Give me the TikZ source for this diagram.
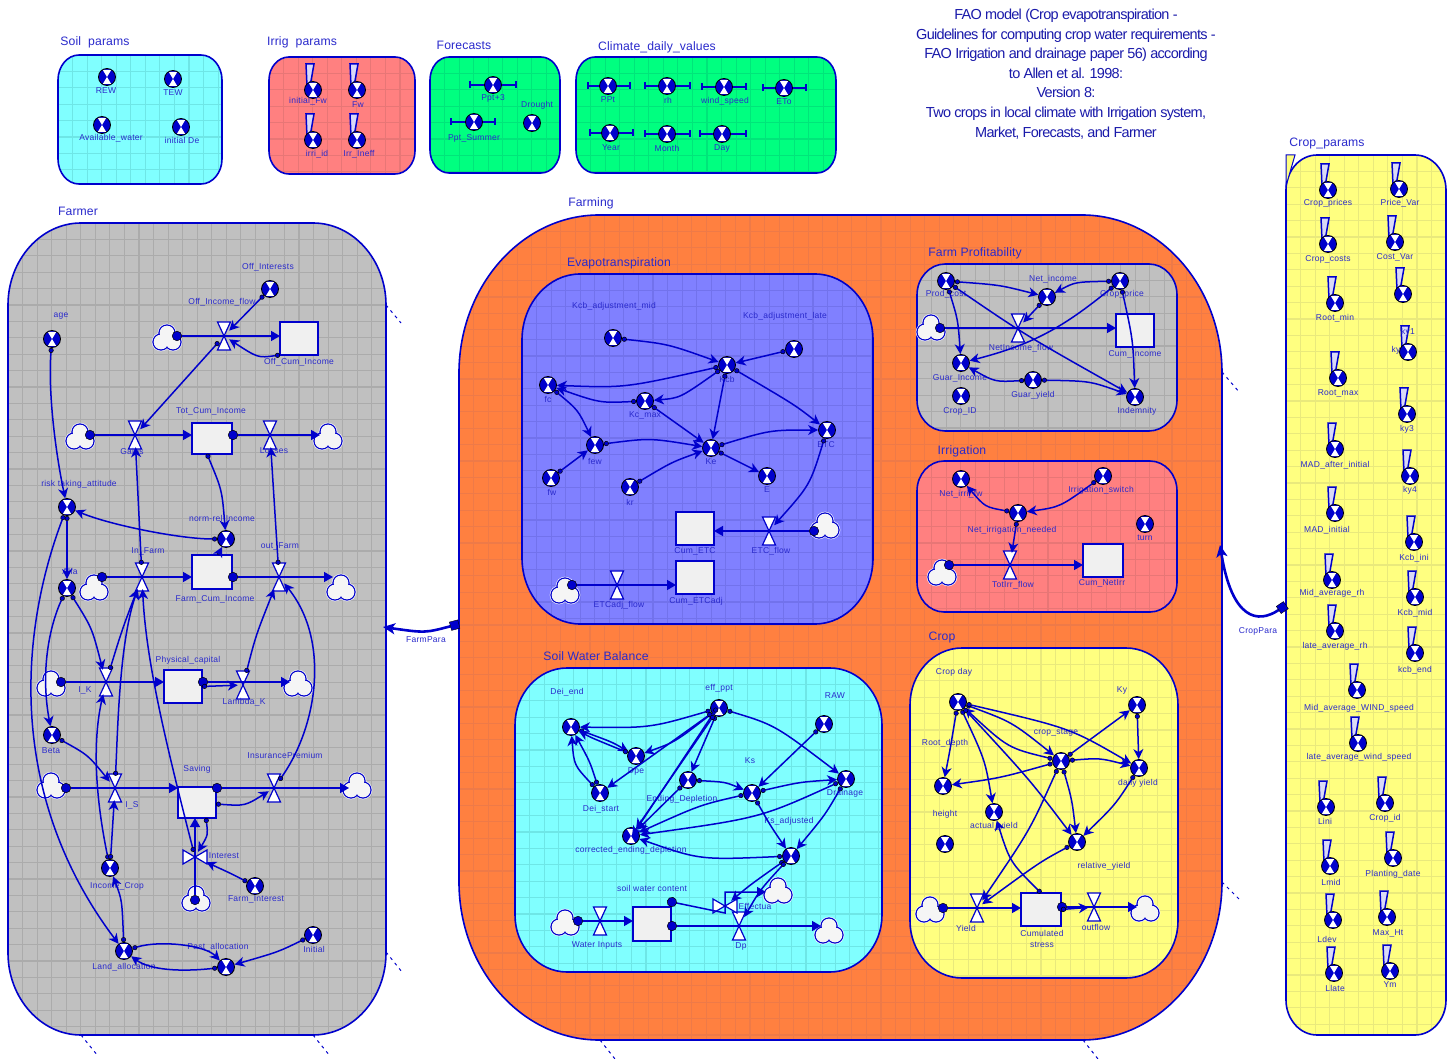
\documentclass[tikz,border=0pt]{standalone}
\usepackage{fontspec}
\setmainfont{Liberation Sans}
\newfontfamily\lblfont[LetterSpace=3]{Liberation Sans}
\newfontfamily\ttlfont[LetterSpace=1]{Liberation Sans}
\newfontfamily\hdrfont[LetterSpace=-4.8]{Liberation Sans}
\usetikzlibrary{arrows.meta}
\definecolor{lineblue}{HTML}{0000CC}
\definecolor{txtblue}{HTML}{2A2ACC}
\definecolor{hdrblue}{HTML}{1A1AAA}
\definecolor{cCyan}{HTML}{80FFFF}\definecolor{gCyan}{HTML}{6EE6E6}
\definecolor{cSalm}{HTML}{FF8080}\definecolor{gSalm}{HTML}{E87676}
\definecolor{cGreen}{HTML}{00FF80}\definecolor{gGreen}{HTML}{00E57A}
\definecolor{cOrg}{HTML}{FF8040}\definecolor{gOrg}{HTML}{EE7A48}
\definecolor{cPeri}{HTML}{8080FF}\definecolor{gPeri}{HTML}{7272EC}
\definecolor{cGray}{HTML}{C0C0C0}\definecolor{gGray}{HTML}{ABABAB}
\definecolor{cYel}{HTML}{FFFF80}\definecolor{gYel}{HTML}{E9E97C}
\tikzset{
 lbl/.style={inner sep=0pt,text=txtblue,font=\lblfont\fontsize{8.5}{9}\selectfont},
 ttl/.style={inner sep=0pt,text=txtblue,font=\ttlfont\fontsize{12.2}{13}\selectfont},
 hdr/.style={inner sep=0pt,text=hdrblue,font=\hdrfont\fontsize{14.5}{15}\selectfont},
 convnode/.style={circle,minimum size=17pt,inner sep=0pt,draw=black,line width=.8pt,fill=lineblue,
   path picture={
     \fill[white] (path picture bounding box.center) -- ++(-4.2,-7) -- ++(8.4,0) -- cycle;
     \fill[white] (path picture bounding box.center) -- ++(-4.2,7) -- ++(8.4,0) -- cycle;
   }},
 flagmark/.style={draw=lineblue,line width=1.5pt,fill=white!85!lineblue,line join=miter},
 barmark/.style={draw=lineblue,line width=1.4pt},
 valvebox/.style={rectangle,minimum width=10pt,minimum height=24pt,inner sep=0pt},
 valvebody/.style={draw=lineblue,line width=1.2pt,fill=white},
 cloudbox/.style={circle,minimum size=24pt,inner sep=0pt},
 stockbox/.style={rectangle,draw=lineblue,line width=1.5pt,fill=black!6,inner sep=0pt,outer sep=0pt},
 panel/.style={draw=lineblue,line width=1.6pt},
 handle/.style={draw=lineblue,line width=1pt,dash pattern=on 3pt off 4pt},
 flow/.style={draw=lineblue,line width=1.5pt,
   {Circle[length=10pt,width=10pt,black,fill=lineblue,line width=.5pt]}-{Triangle[length=9pt,width=10pt,fill=lineblue,lineblue]}},
 conn/.style={draw=lineblue,line width=1.5pt,
   {Circle[length=5pt,width=5pt,black,fill=lineblue,line width=.5pt]}-{Stealth[length=10pt,width=10pt,inset=3pt,fill=lineblue,lineblue]}},
 thickconn/.style={draw=lineblue,line width=2.6pt,
   {Square[length=9pt,width=9pt,black,fill=lineblue,line width=.4pt]}-{Stealth[length=12pt,width=11pt,inset=3pt,fill=lineblue,lineblue]}},
}
\newcounter{lb}
\newcommand\T[3]{\stepcounter{lb}\node[lbl] (lbl\thelb) at (#1,#2) {#3};}
\newcommand\TT[3]{\stepcounter{lb}\node[ttl] (lbl\thelb) at (#1,#2) {#3};}
\newcommand\PanelPath[6]{({#1+#5},#2) -- ({#3-#5},#2) .. controls ({#3-.45*#5},#2) and (#3,{#2+.45*#6}) .. (#3,{#2+#6}) -- (#3,{#4-#6}) .. controls (#3,{#4-.45*#6}) and ({#3-.45*#5},#4) .. ({#3-#5},#4) -- ({#1+#5},#4) .. controls ({#1+.45*#5},#4) and (#1,{#4-.45*#6}) .. (#1,{#4-#6}) -- (#1,{#2+#6}) .. controls (#1,{#2+.45*#6}) and ({#1+.45*#5},#2) .. ({#1+#5},#2) -- cycle}
% x1 y1 x2 y2 rx ry fill grid
\newcommand\Panel[8]{%
 \begin{scope}
  \path[clip] \PanelPath{#1}{#2}{#3}{#4}{#5}{#6};
  \fill[#7] (#1,#2) rectangle (#3,#4);
  \foreach \i in {1,...,56}{\draw[#8,line width=1.1pt] ({#1+14.55*\i},#2) -- ({#1+14.55*\i},#4);}
  \foreach \i in {1,...,56}{\draw[#8,line width=1.1pt] (#1,{#2+16.4*\i}) -- (#3,{#2+16.4*\i});}
 \end{scope}
 \draw[panel] \PanelPath{#1}{#2}{#3}{#4}{#5}{#6};}
\newcommand\Cv[6]{\node[convnode] (#1) at (#2,#3) {};\ifx&#4&\else\T{#5}{#6}{#4}\fi}
\newcommand\CvF[6]{\draw[flagmark] ({#2-7},{#3-26}) -- ({#2+1},{#3-26}) -- ({#2-2},{#3-9}) -- ({#2-6},{#3-4}) -- cycle;\Cv{#1}{#2}{#3}{#4}{#5}{#6}}
% name x y barx1 barx2 label lx ly
\newcommand\CvB[8]{\draw[barmark] (#4,#3) -- (#5,#3) (#4,{#3-3.5}) -- (#4,{#3+3.5}) (#5,{#3-3.5}) -- (#5,{#3+3.5});\Cv{#1}{#2}{#3}{#6}{#7}{#8}}
\newcommand\Va[6]{\draw[valvebody] ({#2-6.5},{#3-14}) -- ({#2+6.5},{#3-14}) -- (#2,#3) -- cycle;\draw[valvebody] ({#2-6.5},{#3+14}) -- ({#2+6.5},{#3+14}) -- (#2,#3) -- cycle;\node[valvebox] (#1) at (#2,#3) {};\T{#5}{#6}{#4}}
\newcommand\VaH[6]{\draw[valvebody] ({#2-12},{#3-7}) -- ({#2-12},{#3+7}) -- (#2,#3) -- cycle;\draw[valvebody] ({#2+12},{#3-7}) -- ({#2+12},{#3+7}) -- (#2,#3) -- cycle;\node[valvebox,minimum width=24pt,minimum height=10pt] (#1) at (#2,#3) {};\T{#5}{#6}{#4}}
\newcommand\Cl[3]{%
 \foreach \dx/\dy in {0/-6,-6/3,6/3}{\fill[white] ({#2+\dx},{#3+\dy}) circle[radius=9.3];}
 \foreach \dx/\dy in {0/-6,-6/3,6/3}{\draw[lineblue,line width=1.3pt] ({#2+\dx},{#3+\dy}) circle[radius=8];}
 \foreach \dx/\dy in {0/-6,-6/3,6/3}{\fill[black!4] ({#2+\dx},{#3+\dy}) circle[radius=7.3];}
 \node[cloudbox] (#1) at (#2,#3) {};}
% name x1 y1 x2 y2 label lx ly
\newcommand\St[8]{\node[stockbox,minimum width={#4-#2},minimum height={#5-#3}] (#1) at ({(#2+#4)/2},{(#3+#5)/2}) {};\ifx&#6&\else\T{#7}{#8}{#6}\fi}
\newcommand\Cs[2]{\draw[conn] (#1) -- (#2);}
\newcommand\Cq[3]{\draw[conn] (#1) .. controls (#2) .. (#3);}
\newcommand\Cc[4]{\draw[conn] (#1) .. controls (#2) and (#3) .. (#4);}
\begin{document}
\begin{tikzpicture}[x=1pt,y=-1pt]
\useasboundingbox (0,0) rectangle (1452,1059);
\fill[white] (0,0) rectangle (1452,1059);
% ---------- header
\stepcounter{lb}\node[hdr,align=center] (header) at (1066,74) {FAO model (Crop evapotranspiration -\\[4.6pt]Guidelines for computing crop water requirements -\\[4.6pt]FAO Irrigation and drainage paper 56) according\\[4.6pt]to Allen et al. 1998:\\[4.6pt]Version 8:\\[4.6pt]Two crops in local climate with Irrigation system,\\[4.6pt]Market, Forecasts, and Farmer};
% ---------- panels
\Panel{58}{55}{222}{184}{21}{25}{cCyan}{gCyan}
\Panel{269}{57}{415}{174}{20}{23}{cSalm}{gSalm}
\Panel{430}{57}{560}{173}{19}{23}{cGreen}{gGreen}
\Panel{576}{57}{836}{173}{19}{23}{cGreen}{gGreen}
\Panel{8}{223}{386}{1035}{73}{82}{cGray}{gGray}
\Panel{459}{215}{1222}{1040}{140}{158}{cOrg}{gOrg}
\Panel{522}{274}{873}{624}{58}{66}{cPeri}{gPeri}
\Panel{917}{264}{1177}{431}{28}{31}{cGray}{gGray}
\Panel{917}{461}{1177}{612}{27}{30}{cSalm}{gSalm}
\Panel{515}{668}{882}{972}{52}{57}{cCyan}{gCyan}
\Panel{910}{648}{1178}{978}{52}{57}{cYel}{gYel}
\Panel{1286}{155}{1446}{1035}{31}{35}{cYel}{gYel}
\draw[flagmark,fill=cYel,line width=1pt] (1286,155) -- (1295,155) -- (1286,186) -- cycle;
% corner handles
\foreach \a/\b/\c/\d in {386/305/401/323,386/952/402/972,81/1035/98/1056,313/1035/330/1056,1222/372/1240/393,1222/882/1240/900,600/1040/615/1059,1083/1040/1098/1059}{\draw[handle] (\a,\b) -- (\c,\d);}
% ---------- titles
\TT{95}{42}{Soil\ \ params}\TT{302}{42}{Irrig\ \ params}\TT{464}{45}{Forecasts}\TT{657}{47}{Climate\_daily\_values}
\TT{78}{211}{Farmer}\TT{591}{203}{Farming}\TT{619}{263}{Evapotranspiration}\TT{975}{253}{Farm Profitability}
\TT{962}{451}{Irrigation}\TT{596}{656}{Soil Water Balance}\TT{942}{638}{Crop}\TT{1327}{144}{Crop\_params}
% ---------- Soil params
\Cv{REW}{107}{77}{REW}{106}{91}
\Cv{TEW}{173}{79}{TEW}{173}{93}
\Cv{AvW}{102}{125}{Available\_water}{111}{138}
\Cv{iniDe}{181}{127}{initial De}{182}{140}
% Irrig params
\CvF{iniFw}{313}{90}{initial\_Fw}{308}{101}
\CvF{Fw}{357}{90}{Fw}{358}{105}
\CvF{irriid}{313}{140}{irri\_id}{317}{154}
\CvF{Irrineff}{357}{140}{Irr\_Ineff}{359}{154}
% Forecasts
\CvB{Ppt3}{493}{85}{470}{516}{Ppt+3}{493}{98}
\CvB{PptS}{474}{122}{451}{495}{Ppt\_Summer}{474}{138}
\Cv{Drought}{532}{123}{Drought}{537}{105}
% Climate
\CvB{PPt}{608}{86}{588}{630}{PPt}{608}{100}
\CvB{rh}{667}{86}{645}{690}{rh}{668}{100}
\CvB{wind}{724}{87}{702}{746}{wind\_speed}{725}{101}
\CvB{ETo}{784}{88}{763}{806}{ETo}{784}{102}
\CvB{Year}{610}{133}{590}{633}{Year}{611}{148}
\CvB{Month}{667}{134}{645}{690}{Month}{667}{148}
\CvB{Day}{722}{134}{700}{746}{Day}{722}{148}
% ---------- Crop params
\CvF{Cprices}{1328}{190}{Crop\_prices}{1328}{203}
\CvF{PriceV}{1399}{189}{Price\_Var}{1400}{203}
\CvF{Ccosts}{1328}{244}{Crop\_costs}{1328}{259}
\CvF{CostV}{1395}{242}{Cost\_Var}{1395}{257}
\CvF{unn}{1403}{294}{}{0}{0}
\CvF{Rmin}{1335}{303}{Root\_min}{1335}{318}
\CvF{kyone}{1408}{352}{ky1}{1408}{332}
\T{1396}{350}{ky}
\CvF{Rmax}{1338}{378}{Root\_max}{1338}{393}
\CvF{kythree}{1407}{414}{ky3}{1407}{429}
\CvF{MADa}{1335}{449}{MAD\_after\_initial}{1335}{465}
\CvF{kyfour}{1410}{476}{ky4}{1410}{490}
\CvF{MADi}{1335}{513}{MAD\_initial}{1327}{530}
\CvF{Kini}{1414}{542}{Kcb\_ini}{1414}{558}
\CvF{Midrh}{1332}{580}{Mid\_average\_rh}{1332}{593}
\CvF{Kmid}{1415}{597}{Kcb\_mid}{1415}{613}
\CvF{Laterh}{1335}{631}{late\_average\_rh}{1335}{646}
\CvF{Kend}{1415}{653}{kcb\_end}{1415}{670}
\CvF{MidW}{1357}{690}{Mid\_average\_WIND\_speed}{1359}{708}
\CvF{LateW}{1358}{743}{late\_average\_wind\_speed}{1359}{757}
\CvF{Lini}{1326}{807}{Lini}{1325}{821}
\CvF{Cropid}{1385}{803}{Crop\_id}{1385}{818}
\CvF{Lmid}{1330}{866}{Lmid}{1331}{882}
\CvF{Plant}{1393}{858}{Planting\_date}{1393}{874}
\CvF{Ldev}{1333}{920}{Ldev}{1327}{939}
\CvF{MaxHt}{1387}{917}{Max\_Ht}{1388}{933}
\CvF{Llate}{1334}{973}{Llate}{1335}{988}
\CvF{Ym}{1390}{971}{Ym}{1390}{985}
% ---------- para links
\coordinate (fpS) at (459,624);\coordinate (fpE) at (383,627);
\draw[thickconn] (fpS) .. controls (425,633) .. (fpE);
\T{426}{640}{FarmPara}
\coordinate (cpS) at (1286,605);\coordinate (cpE) at (1220,545);
\draw[thickconn] (cpS) .. controls (1258,624) and (1232,620) .. (cpE);
\T{1258}{631}{CropPara}
% ---------- FARMER
\Va{OffFlow}{224}{336}{Off\_Income\_flow}{222}{302}
\Va{Gains}{135}{435}{Gains}{132}{451}
\Va{Losses}{270}{435}{Losses}{274}{451}
\Va{InFarm}{142}{577}{In\_Farm}{148}{551}
\Va{OutFarm}{279}{577}{out\_Farm}{280}{546}
\Va{IK}{106}{682}{I\_K}{85}{690}
\Va{LamK}{243}{685}{Lambda\_K}{244}{702}
\Va{IS}{115}{788}{I\_S}{132}{805}
\Va{InsP}{274}{788}{InsurancePremium}{285}{755}
\VaH{Interest}{195}{857}{Interest}{224}{856}
\Cl{fc1}{167}{339}\Cl{fc2}{80}{438}\Cl{fc3}{328}{438}\Cl{fc4}{94}{589}\Cl{fc5}{341}{589}
\Cl{fc6}{51}{685}\Cl{fc7}{298}{685}\Cl{fc8}{51}{787}\Cl{fc9}{357}{787}\Cl{fc10}{196}{900}
\St{OffCum}{280}{322}{318}{355}{Off\_Cum\_Income}{299}{362}
\St{TotCum}{192}{423}{232}{454}{Tot\_Cum\_Income}{211}{411}
\St{FarmCum}{192}{555}{232}{589}{Farm\_Cum\_Income}{215}{599}
\St{PhysCap}{164}{670}{202}{703}{Physical\_capital}{188}{660}
\St{Saving}{178}{787}{216}{818}{Saving}{197}{769}
\Cv{OffInt}{270}{289}{Off\_Interests}{268}{267}
\Cv{age}{52}{339}{age}{61}{316}
\Cv{risk}{67}{507}{risk taking\_attitude}{79}{484}
\Cv{Alfa}{67}{588}{Alfa}{70}{571}
\Cv{norm}{226}{539}{norm-rel-Income}{222}{518}
\Cv{Beta}{52}{735}{Beta}{51}{751}
\Cv{IncCrop}{110}{868}{Income\_Crop}{117}{886}
\Cv{Land}{124}{951}{Land\_allocation}{124}{967}
\Cv{Past}{226}{967}{Past\_allocation}{218}{947}
\Cv{Initial}{313}{935}{Initial}{314}{949}
\Cv{FarmInt}{255}{886}{Farm\_Interest}{256}{899}
% flows
\draw[flow] ([xshift=5pt]fc1.center |- OffFlow) -- (OffCum.west |- OffFlow);
\draw[flow] ([xshift=5pt]fc2.center |- Gains) -- (TotCum.west |- Gains);
\draw[flow] ([xshift=-4pt]TotCum.east |- Losses) -- ([xshift=-8pt]fc3.center |- Losses);
\draw[flow] ([xshift=3pt]fc4.center |- InFarm) -- (FarmCum.west |- InFarm);
\draw[flow] ([xshift=-4pt]FarmCum.east |- OutFarm) -- ([xshift=-8pt]fc5.center |- OutFarm);
\draw[flow] ([xshift=5pt]fc6.center |- IK) -- (PhysCap.west |- IK);
\draw[flow] ([xshift=-4pt]PhysCap.east |- IK) -- ([xshift=-8pt]fc7.center |- IK);
\draw[flow] ([xshift=10pt]fc8.center |- IS) -- (Saving.west |- IS);
\draw[flow] ([xshift=-4pt]Saving.east |- InsP) -- ([xshift=-8pt]fc9.center |- InsP);
\draw[flow] ([yshift=-5pt]fc10.center -| Interest) -- (Interest |- Saving.south);
% connectors
\Cs{OffInt}{OffFlow}
\Cq{OffCum.south west}{258,358}{OffFlow}
\Cs{OffFlow}{Gains}
\Cq{[xshift=-5pt]TotCum.south}{222,490}{norm}
\Cc{norm}{180,539}{110,525}{risk}
\Cc{age}{48,390}{55,450}{risk}
\Cs{risk}{Alfa}
\Cc{risk}{17,640}{10,800}{Land}
\Cc{Alfa}{50,625}{40,670}{Beta}
\Cq{Alfa}{92,628}{IK}
\Cq{Beta}{88,755}{IS}
\Cs{[xshift=6pt]FarmCum.north}{norm}
\Cs{InFarm}{Gains}
\Cs{OutFarm}{Losses}
\Cq{IK}{122,630}{InFarm}
\Cc{IS}{118,720}{120,640}{InFarm}
\Cc{Interest}{165,740}{146,660}{InFarm}
\Cc{IncCrop}{92,780}{95,730}{IK}
\Cs{IncCrop}{IS}
\Cq{Land}{122,900}{IncCrop}
\Cq{LamK}{256,635}{OutFarm}
\Cc{InsP}{318,725}{330,640}{OutFarm}
\Cq{[yshift=-1pt]Saving.east |- 0,803}{245,806}{InsP}
\Cq{[xshift=9pt]Saving.south}{208,835}{Interest}
\Cq{FarmInt}{232,874}{Interest}
\Cs{PhysCap.east}{LamK}
\Cc{Land}{160,940}{205,945}{Past}
\Cc{Past}{180,972}{150,970}{Land}
\Cq{Initial}{278,952}{Past}
% ---------- EVAPOTRANSPIRATION
\Va{ETCflow}{769}{531}{ETC\_flow}{771}{551}
\Va{ETCadj}{617}{585}{ETCadj\_flow}{619}{605}
\Cl{ec1}{825}{527}\Cl{ec2}{565}{592}
\St{CumETC}{676}{512}{714}{545}{Cum\_ETC}{695}{551}
\St{CumAdj}{676}{561}{714}{594}{Cum\_ETCadj}{696}{601}
\Cv{Kmidadj}{613}{338}{Kcb\_adjustment\_mid}{614}{306}
\Cv{Klate}{794}{349}{Kcb\_adjustment\_late}{785}{316}
\Cv{Kcb}{727}{365}{Kcb}{727}{379}
\Cv{fc}{548}{385}{fc}{548}{399}
\Cv{Kcmax}{645}{401}{Kc\_max}{645}{415}
\Cv{few}{595}{445}{few}{595}{461}
\Cv{Ke}{711}{448}{Ke}{711}{462}
\Cv{ETC}{827}{430}{ETC}{826}{445}
\Cv{fw}{551}{478}{fw}{552}{492}
\Cv{kr}{630}{487}{kr}{630}{502}
\Cv{E}{767}{476}{E}{767}{490}
\draw[flow] ([xshift=-6pt]ec1.center |- ETCflow) -- (CumETC.east |- ETCflow);
\draw[flow] ([xshift=2pt]ec2.center |- ETCadj) -- (CumAdj.west |- ETCadj);
\Cq{Kmidadj}{668,344}{Kcb}
\Cs{Klate}{Kcb}
\Cq{Kcb}{795,405}{ETC}
\Cq{Kcb}{625,388}{fc}
\Cq{Kcb}{680,398}{Kcmax}
\Cq{Kcmax}{600,403}{fc}
\Cs{Kcmax}{Ke}
\Cs{Kcb}{Ke}
\Cq{fc}{578,410}{few}
\Cs{fw}{few}
\Cq{few}{650,438}{Ke}
\Cq{kr}{672,462}{Ke}
\Cs{Ke}{E}
\Cq{Ke}{770,430}{ETC}
\Cq{ETC}{810,485}{ETCflow}
% ---------- FARM PROFITABILITY
\Va{NetFlow}{1018}{328}{NetIncome\_flow}{1021}{348}
\Cl{pc1}{931}{329}
\St{CumInc}{1116}{314}{1154}{347}{Cum\_Income}{1135}{354}
\Cv{Prod}{946}{281}{Prod\_cost}{946}{294}
\Cv{NetInc}{1047}{297}{Net\_income}{1053}{279}
\Cv{CPrice}{1120}{281}{Crop\_price}{1122}{294}
\Cv{GInc}{961}{363}{Guar\_Income}{960}{378}
\Cv{GYield}{1033}{380}{Guar\_yield}{1033}{395}
\Cv{CropID}{961}{396}{Crop\_ID}{960}{411}
\Cv{Indem}{1135}{397}{Indemnity}{1137}{411}
\draw[flow] ([xshift=4pt]pc1.center |- NetFlow) -- (CumInc.west |- NetFlow);
\Cq{Prod}{1000,285}{NetInc}
\Cq{Prod}{1025,335}{Indem}
\Cq{Prod}{958,320}{GInc}
\Cq{CPrice}{1075,282}{NetInc}
\Cc{CPrice}{1060,330}{1030,345}{GInc}
\Cq{CPrice}{1133,340}{Indem}
\Cs{NetInc}{NetFlow}
\Cq{GYield}{995,382}{GInc}
\Cq{GYield}{1090,381}{Indem}
% ---------- IRRIGATION
\Va{TotIrr}{1010}{565}{TotIrr\_flow}{1013}{585}
\Cl{ic1}{942}{574}
\St{CumNet}{1083}{544}{1123}{577}{Cum\_NetIrr}{1102}{583}
\Cv{NetIrr}{961}{479}{Net\_irri\_fw}{961}{494}
\Cv{ISw}{1103}{476}{Irrigation\_switch}{1101}{490}
\Cv{NetNeed}{1018}{513}{Net\_irrigation\_needed}{1012}{530}
\Cv{turn}{1145}{524}{turn}{1145}{538}
\draw[flow] ([xshift=2pt]ic1.center |- TotIrr) -- (CumNet.west |- TotIrr);
\Cq{NetNeed}{985,507}{NetIrr}
\Cq{ISw}{1060,507}{NetNeed}
\Cs{NetNeed}{TotIrr}
% ---------- SOIL WATER BALANCE
\Va{WInp}{600}{921}{Water Inputs}{597}{945}
\Va{Dp}{739}{926}{Dp}{741}{946}
\VaH{Eff}{725}{906}{Effectua}{755}{906}
\Cl{sc1}{565}{924}\Cl{sc2}{778}{892}\Cl{sc3}{829}{932}
\St{SWC}{633}{907}{671}{941}{soil water content}{652}{888}
\Cv{Deiend}{571}{727}{Dei\_end}{567}{692}
\Cv{effppt}{719}{708}{eff\_ppt}{719}{688}
\Cv{RAW}{824}{724}{RAW}{835}{696}
\Cv{Dpe}{636}{756}{Dpe}{636}{771}
\Cv{Deist}{600}{793}{Dei\_start}{601}{809}
\Cv{EndDep}{688}{780}{Ending\_Depletion}{682}{799}
\Cv{Ks}{752}{793}{Ks}{750}{761}
\Cv{Drain}{846}{779}{Drainage}{845}{793}
\Cv{corr}{631}{836}{corrected\_ending\_depletion}{631}{850}
\Cv{Kadj}{791}{856}{Ks\_adjusted}{789}{821}
\draw[flow] ([xshift=8pt]sc1.center |- WInp) -- (SWC.west |- WInp);
\draw[flow] ([xshift=-4pt]SWC.east |- Dp) -- ([xshift=-8pt]sc3.center |- Dp);
\coordinate (effa) at (725,913);\coordinate (effb) at (725,892);
\draw[flow] ([xshift=-4pt,yshift=6pt]SWC.north east) -- (effa) -- (effb) -- ([xshift=-12pt]sc2.center);
\Cq{effppt}{650,728}{Deiend}
\Cq{effppt}{675,742}{Dpe}
\Cs{effppt}{Deist}
\Cq{Deiend}{612,742}{Dpe}
\Cq{Dpe}{592,738}{Deiend}
\Cq{Deist}{590,762}{Deiend}
\Cq{Deist}{574,765}{Deiend}
\Cs{effppt}{EndDep}
\draw[conn] ([xshift=-2pt]effppt.center) -- ([xshift=1pt]corr.center);
\Cs{effppt}{corr}
\Cs{EndDep}{corr}
\Cq{EndDep}{725,782}{Ks}
\Cs{RAW}{Ks}
\Cq{effppt}{775,725}{Drain}
\Cq{Ks}{800,782}{Drain}
\Cq{Ks}{700,805}{corr}
\Cq{Drain}{760,818}{corr}
\Cq{Ks}{770,825}{Kadj}
\Cq{Kadj}{700,860}{corr}
\Cq{Drain}{825,815}{Kadj}
\Cq{Kadj}{750,885}{Eff}
\Cq{Kadj}{760,890}{Dp}
% ---------- CROP
\Va{Yield}{977}{908}{Yield}{966}{928}
\Va{outfl}{1094}{907}{outflow}{1096}{927}
\Cl{cc1}{930}{911}\Cl{cc2}{1145}{910}
\St{Stress}{1021}{893}{1061}{926}{Cumulated}{1042}{933}
\T{1042}{945}{stress}
\Cv{Cday}{958}{702}{Crop day}{954}{672}
\Cv{Ky}{1137}{705}{Ky}{1122}{690}
\Cv{cstage}{1061}{761}{crop\_stage}{1056}{733}
\Cv{dyield}{1139}{768}{daily yield}{1138}{783}
\Cv{Rdepth}{943}{786}{Root\_depth}{945}{743}
\Cv{ayield}{994}{812}{actual\_yield}{994}{826}
\Cv{height}{945}{844}{height}{945}{814}
\Cv{ryield}{1077}{842}{relative\_yield}{1104}{866}
\draw[flow] ([xshift=8pt]cc1.center |- Yield) -- (Stress.west |- Yield);
\draw[flow] ([xshift=-4pt]Stress.east |- outfl) -- ([xshift=-8pt]cc2.center |- outfl);
\Cq{Cday}{950,750}{Rdepth}
\Cq{Cday}{985,760}{ayield}
\Cq{Cday}{1012,722}{cstage}
\Cq{cstage}{1008,748}{Cday}
\Cq{Cday}{1070,728}{dyield}
\Cq{Cday}{1030,780}{ryield}
\Cq{cstage}{1000,778}{Rdepth}
\Cs{cstage}{Ky}
\Cq{cstage}{1100,758}{dyield}
\Cq{cstage}{1072,800}{ryield}
\Cq{cstage}{1030,830}{Yield}
\Cs{Ky}{dyield}
\Cq{dyield}{1115,805}{ryield}
\Cq{ryield}{1040,862}{Yield}
\Cq{Stress.north}{1010,862}{ayield}
\Cs{Stress.east}{outfl}
\end{tikzpicture}
\end{document}
